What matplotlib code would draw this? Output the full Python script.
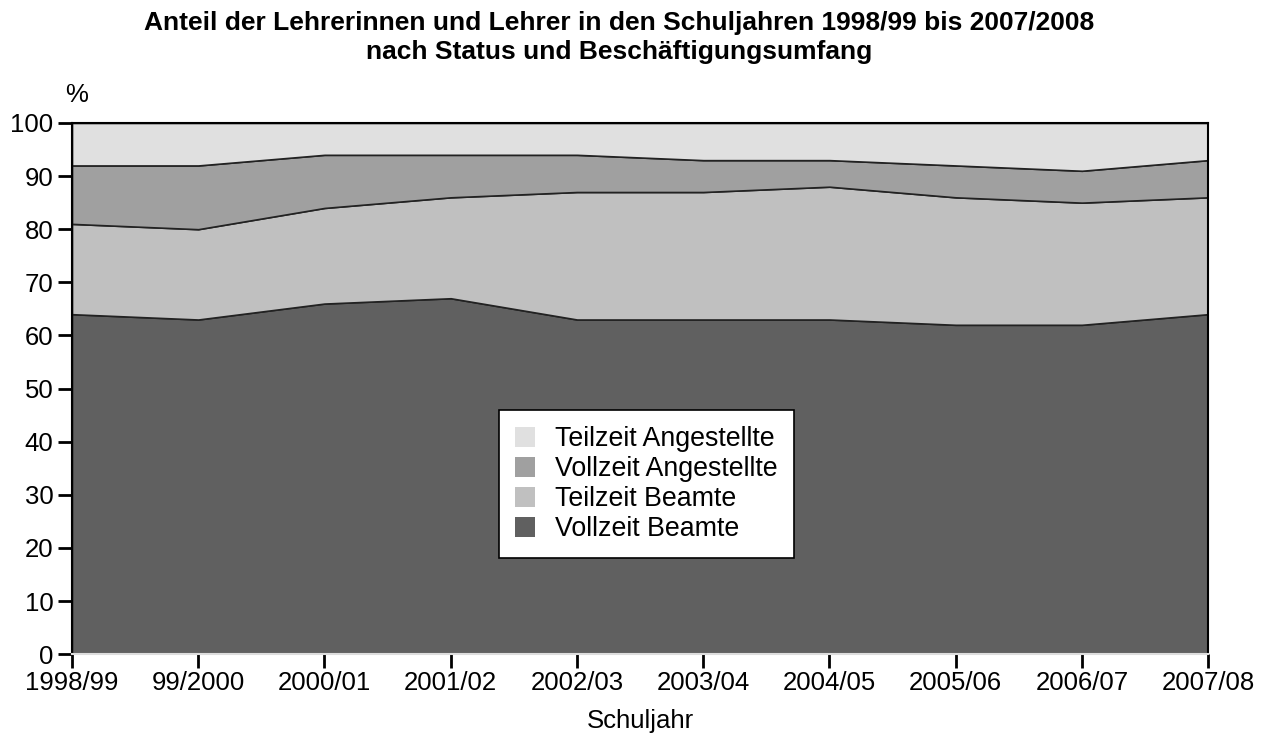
import matplotlib
matplotlib.use("Agg")
from matplotlib import pyplot as plt
import matplotlib.patches as mpatches

plt.rcParams['font.family'] = ['Liberation Sans', 'DejaVu Sans']

years = ['1998/99', '99/2000', '2000/01', '2001/02', '2002/03', '2003/04',
         '2004/05', '2005/06', '2006/07', '2007/08']
vollzeit_beamte = [64, 63, 66, 67, 63, 63, 63, 62, 62, 64]
teilzeit_beamte = [17, 17, 18, 19, 24, 24, 25, 24, 23, 22]
vollzeit_angestellte = [11, 12, 10, 8, 7, 6, 5, 6, 6, 7]
teilzeit_angestellte = [8, 8, 6, 6, 6, 7, 7, 8, 9, 7]

labels = ['Vollzeit Beamte', 'Teilzeit Beamte', 'Vollzeit Angestellte', 'Teilzeit Angestellte']
colors = ['#606060', '#c0c0c0', '#a0a0a0', '#e0e0e0']

fig = plt.figure(figsize=(12.61, 7.35), dpi=100)
ax = fig.add_axes([0.0571, 0.110, 0.9010, 0.7227])

x = list(range(len(years)))
ax.stackplot(x, vollzeit_beamte, teilzeit_beamte, vollzeit_angestellte, teilzeit_angestellte,
             colors=colors, edgecolor='#222222', linewidth=1.2)

ax.set_xlim(0, len(years) - 1)
ax.set_ylim(0, 100)
ax.set_yticks(range(0, 101, 10))
ax.set_xticks(x)
ax.set_xticklabels(years)
ax.tick_params(axis='both', labelsize=18.5, width=2, length=10, direction='out')
ax.tick_params(axis='y', pad=3.5)
ax.tick_params(axis='x', pad=2)
for s in ax.spines.values():
    s.set_linewidth(1.5)
ax.spines['bottom'].set_color('#dddddd')

ax.set_xlabel('Schuljahr', fontsize=18.5, labelpad=10)
ax.text(-0.006, 1.03, '%', transform=ax.transAxes, fontsize=18.5, ha='left', va='bottom')

fig.suptitle('Anteil der Lehrerinnen und Lehrer in den Schuljahren 1998/99 bis 2007/2008\n'
             'nach Status und Beschäftigungsumfang',
             fontsize=19, fontweight='bold', x=0.491, y=0.985, va='top', linespacing=1.25)

handles = [mpatches.Patch(facecolor=c, edgecolor='none', label=l) for c, l in zip(colors, labels)][::-1]
leg = ax.legend(handles=handles, loc='upper left', bbox_to_anchor=(0.376, 0.4595),
                fontsize=19.3, frameon=True, fancybox=False, borderpad=0.6,
                handlelength=0.75, handleheight=0.75, handletextpad=0.75, labelspacing=0.15,
                borderaxespad=0)
leg.get_frame().set_edgecolor('black')
leg.get_frame().set_linewidth(1.2)
leg.get_frame().set_alpha(1)

fig.savefig('out.png', dpi=100)
